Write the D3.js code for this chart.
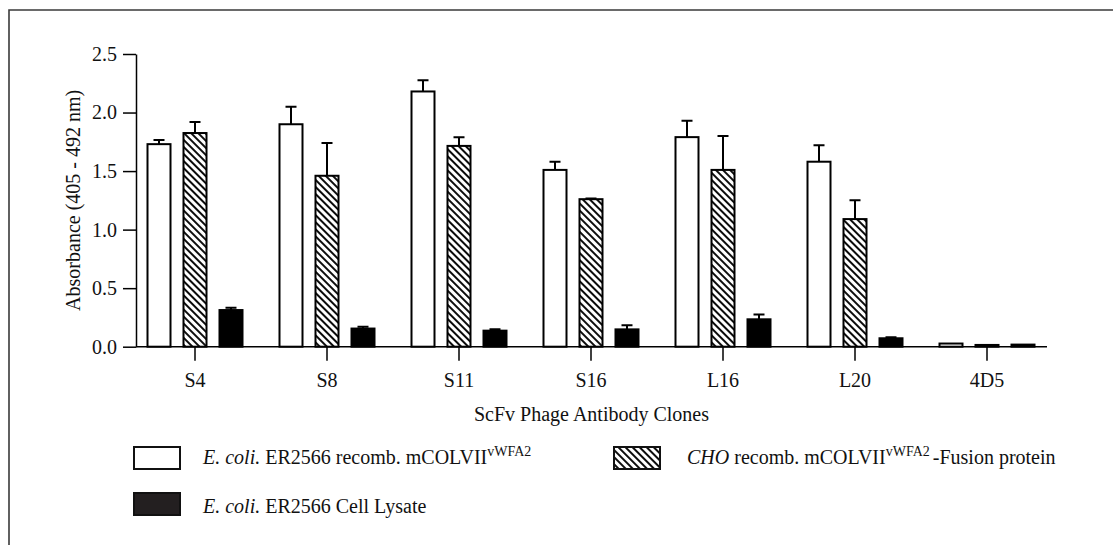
<!DOCTYPE html>
<html>
<head>
<meta charset="utf-8">
<script src="https://cdn.jsdelivr.net/npm/d3@7"></script>
<style>
  html, body { margin: 0; padding: 0; background: #fff; }
  svg { display: block; }
  text { font-family: "Liberation Serif", "Times New Roman", serif; fill: #111; }
</style>
</head>
<body>
<svg id="chart" width="1113" height="545"></svg>
<script>
// ELISA absorbance per ScFv phage antibody clone
const clones = ["S4", "S8", "S11", "S16", "L16", "L20", "4D5"];
const seriesKeys = ["ecoliRecomb", "choFusion", "ecoliLysate"];
const ecoliRecomb      = [1.73, 1.90, 2.18, 1.51, 1.79, 1.58, 0.027];
const ecoliRecombErr   = [0.035, 0.15, 0.095, 0.07, 0.14, 0.14, 0.0];
const choFusion        = [1.825, 1.46, 1.715, 1.26, 1.51, 1.09, 0.015];
const choFusionErr     = [0.095, 0.28, 0.075, 0.006, 0.29, 0.16, 0.004];
const ecoliLysate      = [0.313, 0.155, 0.137, 0.148, 0.234, 0.072, 0.018];
const ecoliLysateErr   = [0.02, 0.016, 0.011, 0.035, 0.04, 0.008, 0.004];
const yTicks = [0, 0.5, 1.0, 1.5, 2.0, 2.5];

const values = { ecoliRecomb, choFusion, ecoliLysate };
const errors = { ecoliRecomb: ecoliRecombErr, choFusion: choFusionErr, ecoliLysate: ecoliLysateErr };

const svg = d3.select("#chart");
const defs = svg.append("defs");

// diagonal hatch running top-left to bottom-right
defs.append("pattern")
  .attr("id", "hatch")
  .attr("patternUnits", "userSpaceOnUse")
  .attr("width", 5).attr("height", 5)
  .attr("patternTransform", "rotate(-45)")
  .call(p => {
    p.append("rect").attr("width", 5).attr("height", 5).attr("fill", "#fff");
    p.append("line").attr("x1", 1).attr("y1", -1).attr("x2", 1).attr("y2", 6)
      .attr("stroke", "#000").attr("stroke-width", 1.9);
  });

const fills = { ecoliRecomb: "#fff", choFusion: "url(#hatch)", ecoliLysate: "#000" };

// outer frame (top and left rules)
svg.append("path")
  .attr("d", "M9,545 V10 H1113")
  .attr("fill", "none").attr("stroke", "#3a3a3a").attr("stroke-width", 1.6);

const x = d3.scaleBand().domain(clones).range([129, 1053]).padding(0);
const xSub = d3.scaleBand().domain(seriesKeys).range([-47.5, 47.5]).paddingInner(0.361).paddingOuter(0);
const y = d3.scaleLinear().domain([0, 2.5]).range([346.7, 54]);
const axisLeftX = 136, axisRightX = 1047;

// bars
const rows = [];
clones.forEach((c, i) => seriesKeys.forEach(k => rows.push({ clone: c, key: k, v: values[k][i], e: errors[k][i] })));

const g = svg.append("g");
g.selectAll("rect.bar").data(rows).join("rect")
  .attr("class", "bar")
  .attr("x", d => x(d.clone) + x.bandwidth() / 2 + xSub(d.key))
  .attr("y", d => y(d.v))
  .attr("width", xSub.bandwidth())
  .attr("height", d => y(0) - y(d.v))
  .attr("fill", d => fills[d.key])
  .attr("stroke", "#000").attr("stroke-width", 2);

// upper error bars
const errRows = rows.filter(d => d.e > 0.005);
const cx = d => x(d.clone) + x.bandwidth() / 2 + xSub(d.key) + xSub.bandwidth() / 2;
g.selectAll("path.err").data(errRows).join("path")
  .attr("class", "err")
  .attr("d", d => `M${cx(d)},${y(d.v)} V${y(d.v + d.e)} M${cx(d) - 5.5},${y(d.v + d.e)} H${cx(d) + 5.5}`)
  .attr("fill", "none").attr("stroke", "#000").attr("stroke-width", 2);

// y axis
const yAxis = svg.append("g").attr("transform", `translate(${axisLeftX},0)`)
  .call(d3.axisLeft(y).tickValues(yTicks).tickFormat(d3.format(".1f")).tickSize(13).tickSizeOuter(0).tickPadding(6));
yAxis.select(".domain").attr("stroke", "#000").attr("stroke-width", 1.5);
yAxis.selectAll(".tick line").attr("stroke", "#000").attr("stroke-width", 1.5);
yAxis.selectAll(".tick text").attr("font-size", 20).attr("font-family", "Liberation Serif").attr("fill", "#111");

// x axis
const xAxis = svg.append("g").attr("transform", `translate(0,${y(0)})`)
  .call(d3.axisBottom(x).tickSize(14).tickSizeOuter(0).tickPadding(12));
xAxis.select(".domain").remove();
xAxis.append("line").attr("x1", axisLeftX).attr("x2", axisRightX)
  .attr("stroke", "#000").attr("stroke-width", 1.5);
xAxis.selectAll(".tick line").attr("stroke", "#000").attr("stroke-width", 1.5);
xAxis.selectAll(".tick text").attr("font-size", 20).attr("font-family", "Liberation Serif").attr("fill", "#111");

// axis titles
svg.append("text")
  .attr("transform", `translate(80,${(y(0) + y(2.5)) / 2}) rotate(-90)`)
  .attr("text-anchor", "middle").attr("font-size", 20)
  .text("Absorbance (405 - 492 nm)");

svg.append("text")
  .attr("x", (axisLeftX + axisRightX) / 2).attr("y", 421)
  .attr("text-anchor", "middle").attr("font-size", 20)
  .text("ScFv Phage Antibody Clones");

// legend
const legend = [
  { key: "ecoliRecomb", x: 134, y: 447, tx: 203, ty: 464, fill: "#fff" },
  { key: "choFusion", x: 614, y: 447, tx: 687, ty: 464, fill: "url(#hatch)" },
  { key: "ecoliLysate", x: 134, y: 493, tx: 203, ty: 513, fill: "#231f20" }
];
const lg = svg.append("g");
lg.selectAll("rect").data(legend).join("rect")
  .attr("x", d => d.x).attr("y", d => d.y)
  .attr("width", 46).attr("height", 22)
  .attr("fill", d => d.fill)
  .attr("stroke", "#111").attr("stroke-width", 2);

const t1 = lg.append("text").attr("x", legend[0].tx).attr("y", legend[0].ty).attr("font-size", 20);
t1.append("tspan").attr("font-style", "italic").text("E. coli.");
t1.append("tspan").text(" ER2566 recomb. mCOLVII");
t1.append("tspan").attr("font-size", 14).attr("dy", -8).text("vWFA2");

const t2 = lg.append("text").attr("x", legend[1].tx).attr("y", legend[1].ty).attr("font-size", 20);
t2.append("tspan").attr("font-style", "italic").text("CHO");
t2.append("tspan").text(" recomb. mCOLVII");
t2.append("tspan").attr("font-size", 14).attr("dy", -8).text("vWFA2");
t2.append("tspan").attr("dy", 8).attr("dx", 3).text("-Fusion protein");

const t3 = lg.append("text").attr("x", legend[2].tx).attr("y", legend[2].ty).attr("font-size", 20);
t3.append("tspan").attr("font-style", "italic").text("E. coli.");
t3.append("tspan").text(" ER2566 Cell Lysate");
</script>
</body>
</html>
